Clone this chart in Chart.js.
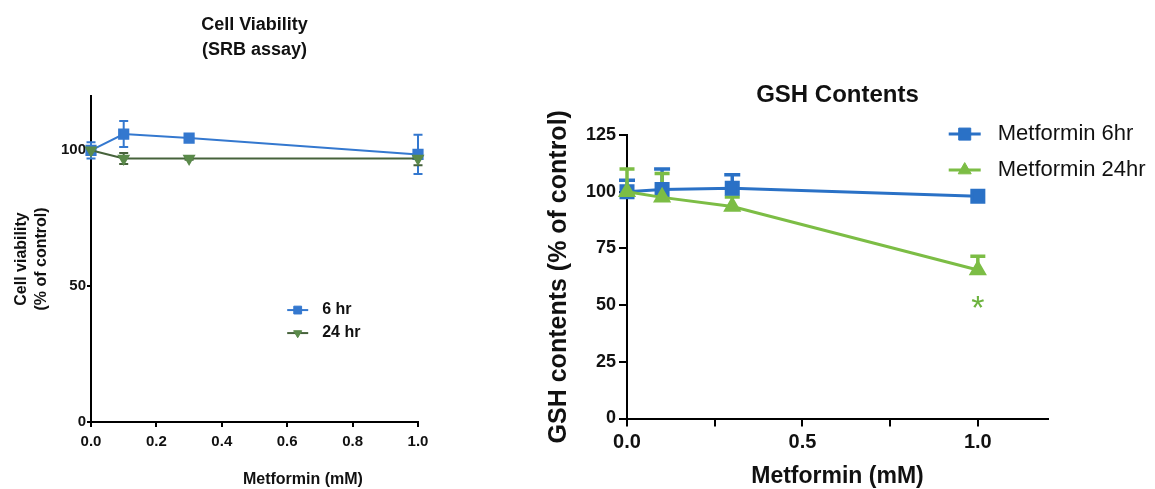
<!DOCTYPE html>
<html>
<head>
<meta charset="utf-8">
<script src="https://cdn.jsdelivr.net/npm/chart.js@4.4.0/dist/chart.umd.min.js"></script>
<style>
  html, body { margin: 0; padding: 0; background: #fff; }
  #wrap { position: relative; width: 1155px; height: 489px; overflow: hidden; }
  #srbBox { position: absolute; left: 0; top: 0; width: 470px; height: 489px; }
  #gshBox { position: absolute; left: 470px; top: 0; width: 685px; height: 489px; }
</style>
</head>
<body>
<div id="wrap">
  <div id="srbBox"><canvas id="srbChart" width="470" height="489"></canvas></div>
  <div id="gshBox"><canvas id="gshChart" width="685" height="489"></canvas></div>
</div>
<script>
// ── Cell viability (SRB assay) ──
var srbDose    = [0, 0.1, 0.3, 1.0];
var srb6hr     = [100, 106, 104.5, 98.5];
var srb6hrErr  = [3, 4.8, 1, 7.2];
var srb24hr    = [100, 97, 97, 97];
var srb24hrErr = [1, 2, 0.5, 2.5];
var srbXTicks  = [0, 0.2, 0.4, 0.6, 0.8, 1.0];
var srbYTicks  = [0, 50, 100];

// ── GSH contents ──
var gshDose    = [0, 0.1, 0.3, 1.0];
var gsh6hr     = [100, 101, 101.5, 98];
var gsh6hrErr  = [5, 9, 6, 0];
var gsh24hr    = [100, 97.5, 93.5, 65.5];
var gsh24hrErr = [10, 10.5, 4.2, 6];
var gshXTicks  = [0, 0.25, 0.5, 0.75, 1.0];
var gshXLabels = ['0.0', '', '0.5', '', '1.0'];
var gshYTicks  = [0, 25, 50, 75, 100, 125];
var gshStarDose = [1.0];
var gshStarY    = [48];

var FONT = "'Liberation Sans', Arial, Helvetica, sans-serif";

function pts(xs, ys) {
  return xs.map(function(x, i){ return {x: x, y: ys[i]}; });
}
function fixedTicks(list) {
  return function(s){ s.ticks = list.map(function(v){ return {value: v}; }); };
}

// error bars (drawn under the markers)
var errorBars = {
  id: 'errorBars',
  beforeDatasetsDraw: function(chart) {
    var ctx = chart.ctx, ys = chart.scales.y;
    chart.data.datasets.forEach(function(ds, di) {
      if (!ds.errors) return;
      var meta = chart.getDatasetMeta(di);
      ctx.save();
      ctx.strokeStyle = ds.borderColor;
      ctx.lineWidth = ds.errorWidth || 2;
      meta.data.forEach(function(pt, i) {
        var e = ds.errors[i];
        if (!e) return;
        var v = ds.data[i].y;
        var top = ys.getPixelForValue(v + e);
        var bot = ds.errorBoth ? ys.getPixelForValue(v - e) : pt.y;
        var hw = (ds.capWidth || 8) / 2;
        ctx.beginPath();
        ctx.moveTo(pt.x, top); ctx.lineTo(pt.x, bot);
        ctx.moveTo(pt.x - hw, top); ctx.lineTo(pt.x + hw, top);
        if (ds.errorBoth) { ctx.moveTo(pt.x - hw, bot); ctx.lineTo(pt.x + hw, bot); }
        ctx.stroke();
      });
      ctx.restore();
    });
  }
};

// GraphPad-style legend: short line with the marker in the middle
function lineLegend(cfg) {
  return {
    id: 'lineLegend',
    afterDraw: function(chart) {
      var ctx = chart.ctx;
      var x0 = chart.scales.x.getPixelForValue(cfg.x);
      var y0 = chart.scales.y.getPixelForValue(cfg.y);
      chart.data.datasets.forEach(function(ds, i) {
        var cy = y0 + i * cfg.rowGap;
        ctx.save();
        ctx.strokeStyle = ds.borderColor;
        ctx.lineWidth = ds.borderWidth;
        ctx.beginPath();
        ctx.moveTo(x0, cy); ctx.lineTo(x0 + cfg.lineLen, cy);
        ctx.stroke();
        ctx.fillStyle = ds.pointBackgroundColor;
        ctx.strokeStyle = ds.pointBorderColor;
        ctx.lineWidth = 1;
        Chart.helpers.drawPoint(ctx, {
          pointStyle: ds.pointStyle, rotation: ds.pointRotation || 0,
          radius: ds.pointRadius * cfg.markerScale, borderWidth: 1
        }, x0 + cfg.lineLen / 2, cy);
        ctx.fillStyle = '#111';
        ctx.font = cfg.font;
        ctx.textAlign = 'left';
        ctx.textBaseline = 'middle';
        ctx.fillText(ds.label, x0 + cfg.lineLen + cfg.textGap, cy);
        ctx.restore();
      });
    }
  };
}

// loose text anchored on the scales (x title off-centre, significance star)
function markText(items) {
  return {
    id: 'markText',
    afterDraw: function(chart) {
      var ctx = chart.ctx;
      items.forEach(function(it) {
        var x = chart.scales.x.getPixelForValue(it.x);
        var y = it.below !== undefined ? chart.chartArea.bottom + it.below
                                       : chart.scales.y.getPixelForValue(it.y);
        ctx.save();
        ctx.fillStyle = it.color;
        ctx.font = it.font;
        ctx.textAlign = 'center';
        ctx.textBaseline = 'middle';
        ctx.fillText(it.text, x, y);
        ctx.restore();
      });
    }
  };
}

function axisStyle(tickLen, size, pad) {
  return {
    border: { display: true, color: '#000', width: 2 },
    grid: { display: true, drawOnChartArea: false, drawTicks: true,
            tickLength: tickLen, color: '#000', lineWidth: 2 },
    ticks: { color: '#111', padding: pad, autoSkip: false, maxRotation: 0,
             font: { family: FONT, size: size, weight: 'bold' } }
  };
}

// ── left chart ──
var srbBlue = '#3478cf', srbGreen = '#5a8a4a', srbGreenLine = '#46623b';
var srbX = axisStyle(5, 15, 6);
srbX.type = 'linear'; srbX.min = 0; srbX.max = 1.0;
srbX.afterBuildTicks = fixedTicks(srbXTicks);
srbX.afterFit = function(s){ s.height = 67; };
srbX.ticks.callback = function(v){ return Number(v).toFixed(1); };
var srbY = axisStyle(4, 15, 1);
srbY.min = 0; srbY.max = 120;
srbY.afterBuildTicks = fixedTicks(srbYTicks);
srbY.afterFit = function(s){ s.width = 91; };
srbY.title = { display: true, text: ['Cell viability', '(% of control)'], color: '#111',
               font: { family: FONT, size: 16, weight: 'bold', lineHeight: 1.25 },
               padding: { top: 12, bottom: 0 } };

new Chart(document.getElementById('srbChart'), {
  type: 'line',
  data: {
    datasets: [
      { label: '6 hr', data: pts(srbDose, srb6hr), order: 1,
        borderColor: srbBlue, pointBackgroundColor: srbBlue, pointBorderColor: srbBlue,
        borderWidth: 2, pointStyle: 'rect', pointRadius: 6.5, tension: 0, clip: false,
        errors: srb6hrErr, errorBoth: true, capWidth: 9, errorWidth: 2 },
      { label: '24 hr', data: pts(srbDose, srb24hr), order: 0,
        borderColor: srbGreenLine, pointBackgroundColor: srbGreen, pointBorderColor: srbGreen,
        borderWidth: 2, pointStyle: 'triangle', pointRotation: 180, pointRadius: 5.5,
        tension: 0, clip: false,
        errors: srb24hrErr, errorBoth: true, capWidth: 9, errorWidth: 2 }
    ]
  },
  options: {
    responsive: false, animation: false, events: [],
    layout: { padding: { left: 0, right: 52, top: 0, bottom: 0 } },
    plugins: {
      legend: { display: false }, tooltip: { enabled: false },
      title: { display: true, fullSize: false, text: ['Cell Viability', '(SRB assay)'], color: '#111',
               font: { family: FONT, size: 18, weight: 'bold', lineHeight: 1.4 },
               padding: { top: 12, bottom: 33.6 } }
    },
    scales: { x: srbX, y: srbY }
  },
  plugins: [errorBars,
    lineLegend({ x: 0.6, y: 41.2, rowGap: 23, lineLen: 21, textGap: 14, markerScale: 0.85,
                 font: 'bold 16px ' + FONT }),
    markText([{ text: 'Metformin (mM)', x: 0.648, below: 58, color: '#111',
                font: 'bold 16px ' + FONT }])]
});

// ── right chart ──
var gshBlue = '#2a71c6', gshGreen = '#7cbd45';
var gshX = axisStyle(8, 20, 4);
gshX.type = 'linear'; gshX.min = 0; gshX.max = 1.2;
gshX.afterBuildTicks = fixedTicks(gshXTicks);
gshX.afterFit = function(s){ s.height = 70.5; };
gshX.ticks.callback = function(v, i){ return gshXLabels[i]; };
gshX.title = { display: true, text: 'Metformin (mM)', color: '#111',
               font: { family: FONT, size: 23, weight: 'bold', lineHeight: 1.0 },
               padding: { top: 0, bottom: 1 } };
var gshY = axisStyle(8, 18, 3);
gshY.min = 0; gshY.max = 125;
gshY.afterBuildTicks = fixedTicks(gshYTicks);
gshY.afterFit = function(s){ s.width = 157; };
gshY.title = { display: true, text: 'GSH contents (% of control)', color: '#111',
               font: { family: FONT, size: 25, weight: 'bold', lineHeight: 1.2 },
               padding: { top: 74, bottom: 0 } };

var gshStars = gshStarDose.map(function(d, i){
  return { text: '*', x: d, y: gshStarY[i], color: '#6db33f', font: '34px ' + FONT };
});

new Chart(document.getElementById('gshChart'), {
  type: 'line',
  data: {
    datasets: [
      { label: 'Metformin 6hr', data: pts(gshDose, gsh6hr), order: 1,
        borderColor: gshBlue, pointBackgroundColor: gshBlue, pointBorderColor: gshBlue,
        borderWidth: 3, pointStyle: 'rect', pointRadius: 8.5, tension: 0, clip: false,
        errors: gsh6hrErr, errorBoth: false, capWidth: 16, errorWidth: 3.5 },
      { label: 'Metformin 24hr', data: pts(gshDose, gsh24hr), order: 0,
        borderColor: gshGreen, pointBackgroundColor: gshGreen, pointBorderColor: gshGreen,
        borderWidth: 3, pointStyle: 'triangle', pointRadius: 7.5, tension: 0, clip: false,
        errors: gsh24hrErr, errorBoth: false, capWidth: 15, errorWidth: 3.5 }
    ]
  },
  options: {
    responsive: false, animation: false, events: [],
    layout: { padding: { left: 0, right: 107, top: 0, bottom: 0 } },
    plugins: {
      legend: { display: false }, tooltip: { enabled: false },
      title: { display: true, fullSize: false, text: 'GSH Contents', color: '#111',
               font: { family: FONT, size: 24, weight: 'bold', lineHeight: 1.2 },
               padding: { top: 80.6, bottom: 25.6 } }
    },
    scales: { x: gshX, y: gshY }
  },
  plugins: [errorBars,
    lineLegend({ x: 0.917, y: 125.4, rowGap: 36, lineLen: 32, textGap: 17, markerScale: 1.0,
                 font: '22px ' + FONT }),
    markText(gshStars)]
});
</script>
</body>
</html>
